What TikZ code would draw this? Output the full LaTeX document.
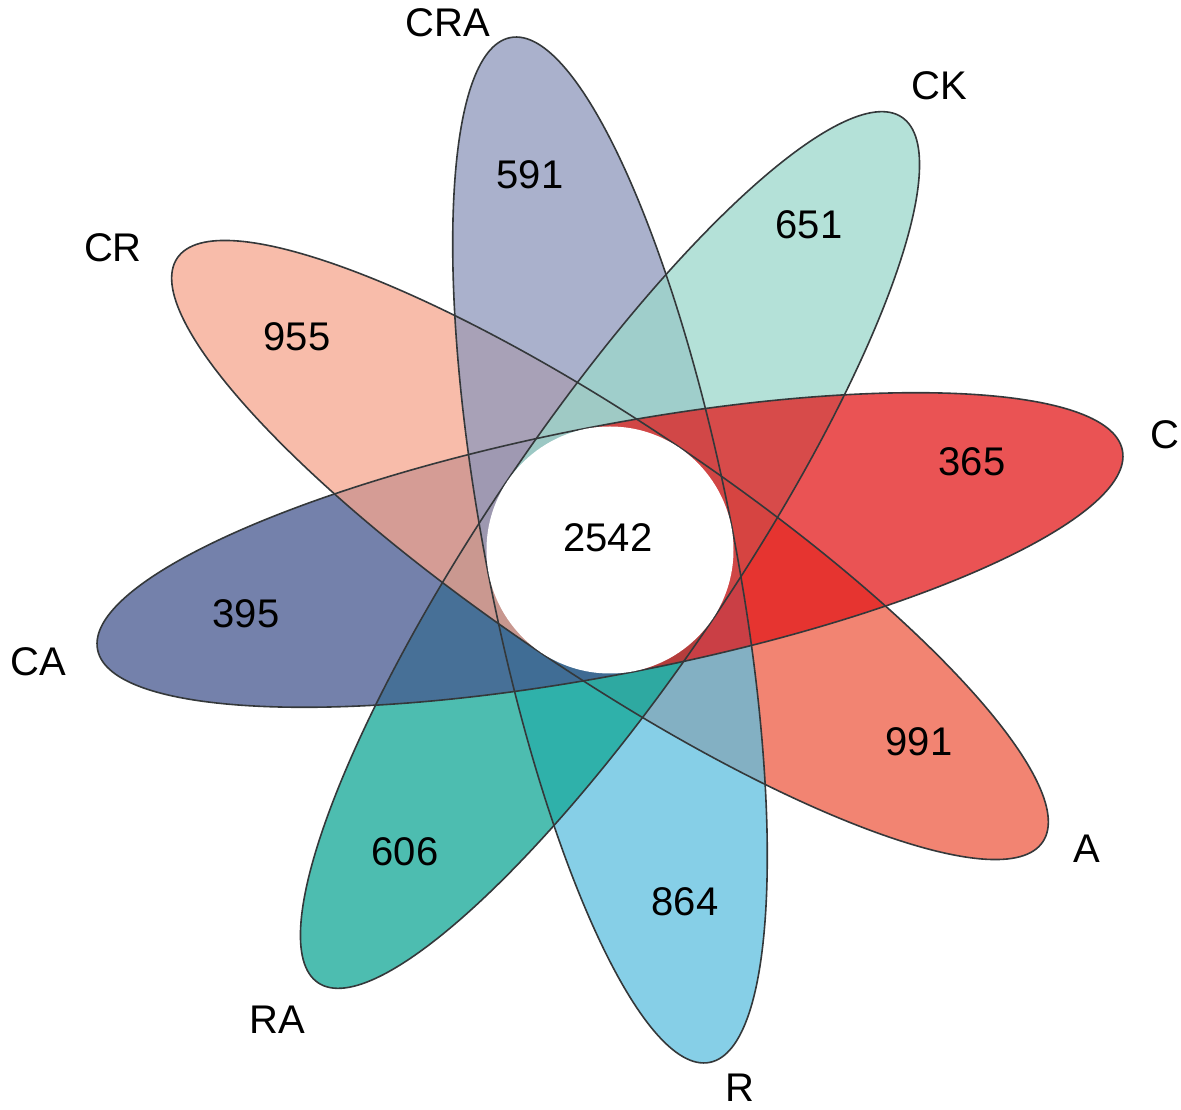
\documentclass[tikz,border=0pt]{standalone}
\usepackage{fontspec}
\setmainfont{Liberation Sans}
\definecolor{cC}{RGB}{227,26,27}
\definecolor{cCK}{RGB}{156,216,203}
\definecolor{cCRA}{RGB}{142,152,188}
\definecolor{cCR}{RGB}{246,166,142}
\definecolor{cCA}{RGB}{70,87,143}
\definecolor{cRA}{RGB}{18,167,150}
\definecolor{cR}{RGB}{94,191,223}
\definecolor{cA}{RGB}{238,92,68}
\definecolor{edgegray}{RGB}{52,56,58}
\newcommand\petalA{522}
\newcommand\petalB{124}
\newcommand\mypetalfill[2]{%
  \begin{scope}[rotate=#1]
    \fill[#2, fill opacity=0.75] (0,-\petalB) arc[start angle=-90,end angle=90,x radius=\petalA,y radius=\petalB] -- cycle;
  \end{scope}}
\newcommand\mypetaledge[1]{%
  \begin{scope}[rotate=#1]
    \draw[petalline] (0,-\petalB) arc[start angle=-90,end angle=90,x radius=\petalA,y radius=\petalB];
  \end{scope}}
\begin{document}
\begin{tikzpicture}[x=1pt,y=1pt,
  petalline/.style={draw=edgegray,line width=1.6pt},
  txt/.style={inner sep=0pt,anchor=center,font=\fontsize{40}{48}\selectfont,text=black}]
\useasboundingbox (-610,-560) rectangle (571,550);
\fill[white] (-610,-560) rectangle (571,550);
% petal fills, bottom to top
\mypetalfill{326}{cA}
\mypetalfill{281}{cR}
\mypetalfill{236}{cRA}
\mypetalfill{191}{cCA}
\mypetalfill{146}{cCR}
\mypetalfill{101}{cCRA}
\mypetalfill{56}{cCK}
\mypetalfill{11}{cC}
% petal outlines on top
\mypetaledge{326}
\mypetaledge{281}
\mypetaledge{236}
\mypetaledge{191}
\mypetaledge{146}
\mypetaledge{101}
\mypetaledge{56}
\mypetaledge{11}
% central circle
\fill[white] (0,0) circle (123.5);
% numbers
\node[txt] (ncore) at (-2,12) {2542};
\node[txt] (nCRA) at (-80,375) {591};
\node[txt] (nCK) at (199,325) {651};
\node[txt] (nCR) at (-313,213) {955};
\node[txt] (nC) at (362,88) {365};
\node[txt] (nCA) at (-364,-64) {395};
\node[txt] (nA) at (309,-192) {991};
\node[txt] (nRA) at (-205,-302) {606};
\node[txt] (nR) at (75,-352) {864};
% labels
\node[txt] (lCRA) at (-162,527) {CRA};
\node[txt] (lCK) at (329,464) {CK};
\node[txt] (lCR) at (-497,302) {CR};
\node[txt] (lC) at (555,115) {C};
\node[txt] (lCA) at (-572,-112) {CA};
\node[txt] (lA) at (477,-299) {A};
\node[txt] (lRA) at (-333,-470) {RA};
\node[txt] (lR) at (130,-538) {R};
\end{tikzpicture}
\end{document}
